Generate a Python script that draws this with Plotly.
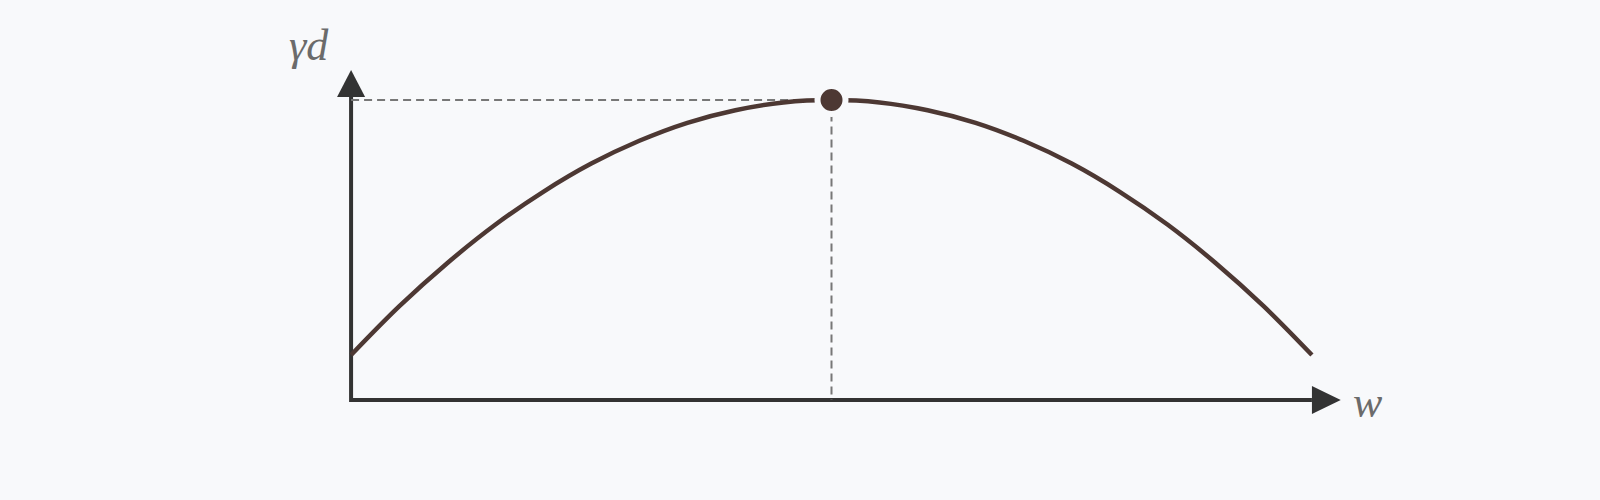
import plotly.graph_objects as go

# valori (w normalizzato 0-1, yd normalizzato al massimo)
w_values = [0.0, 0.05, 0.1, 0.15, 0.2, 0.25, 0.3, 0.35, 0.4, 0.45, 0.5,
            0.55, 0.6, 0.65, 0.7, 0.75, 0.8, 0.85, 0.9, 0.95, 1.0]
yd_values = [0.15, 0.312, 0.456, 0.584, 0.694, 0.788, 0.864, 0.924, 0.966, 0.992, 1.0,
             0.992, 0.966, 0.924, 0.864, 0.788, 0.694, 0.584, 0.456, 0.312, 0.15]
peak_w = [0.5]
peak_yd = [1.0]

BG = "#f8f9fb"
CURVE = "#4d3833"
AXIS = "#333333"
DASH = "#777777"
TEXT = "#6b6b6b"


def create_curve_plot(w: list, yd: list) -> go.Figure:
    """
    Grafico della curva yd in funzione di w con il punto di massimo.
    """
    fig = go.Figure()

    x_end = w[-1]
    y_end = 1.01

    # assi disegnati a mano
    fig.add_trace(go.Scatter(
        x=[0, 0, x_end], y=[y_end, 0, 0],
        mode='lines',
        line=dict(color=AXIS, width=4),
        hoverinfo='skip', showlegend=False
    ))

    # linee tratteggiate verso gli assi
    fig.add_trace(go.Scatter(
        x=[0, peak_w[0], peak_w[0]], y=[peak_yd[0], peak_yd[0], 0],
        mode='lines',
        line=dict(color=DASH, width=2, dash="8px,5px"),
        hoverinfo='skip', showlegend=False
    ))

    # curva principale
    fig.add_trace(go.Scatter(
        x=w, y=yd,
        mode='lines',
        line=dict(color=CURVE, width=4.5, shape='spline'),
        name='yd', showlegend=False
    ))

    # punto di massimo con alone del colore di sfondo
    fig.add_trace(go.Scatter(
        x=peak_w, y=peak_yd,
        mode='markers',
        marker=dict(color=CURVE, size=28, line=dict(color=BG, width=6)),
        cliponaxis=False, showlegend=False
    ))

    # frecce degli assi
    fig.add_shape(type="path", xref="x", yref="y",
                  path=f"M {-0.0146} {y_end} L 0.0146 {y_end} L 0 1.1 Z",
                  fillcolor=AXIS, line=dict(width=0))
    fig.add_shape(type="path", xref="x", yref="y",
                  path=f"M {x_end} -0.0467 L {x_end} 0.0467 L 1.03 0 Z",
                  fillcolor=AXIS, line=dict(width=0))

    label_font = dict(family="Liberation Serif", size=44, color=TEXT)
    fig.add_annotation(x=0, y=1.1, xref="x", yref="y", text="<i>γd</i>",
                       showarrow=False, xanchor="center", yanchor="bottom",
                       xshift=-42, yshift=-2, font=label_font)
    fig.add_annotation(x=1.03, y=0, xref="x", yref="y", text="<i>w</i>",
                       showarrow=False, xanchor="left", yanchor="middle",
                       xshift=10, yshift=-2, font=label_font)

    fig.update_layout(
        width=1600, height=500,
        paper_bgcolor=BG, plot_bgcolor=BG,
        margin=dict(l=255, r=192, t=40, b=40),
        xaxis=dict(range=[-0.1, 1.1], visible=False, fixedrange=True),
        yaxis=dict(range=[-0.2, 1.2], visible=False, fixedrange=True),
        showlegend=False
    )
    return fig


fig = create_curve_plot(w_values, yd_values)
# niente margine bianco attorno alla pagina e niente barra strumenti
fig.write_html("out.html", config={"displayModeBar": False}, post_script=(
    "document.body.style.margin='0';"
    "document.body.style.background='" + BG + "';"
))
